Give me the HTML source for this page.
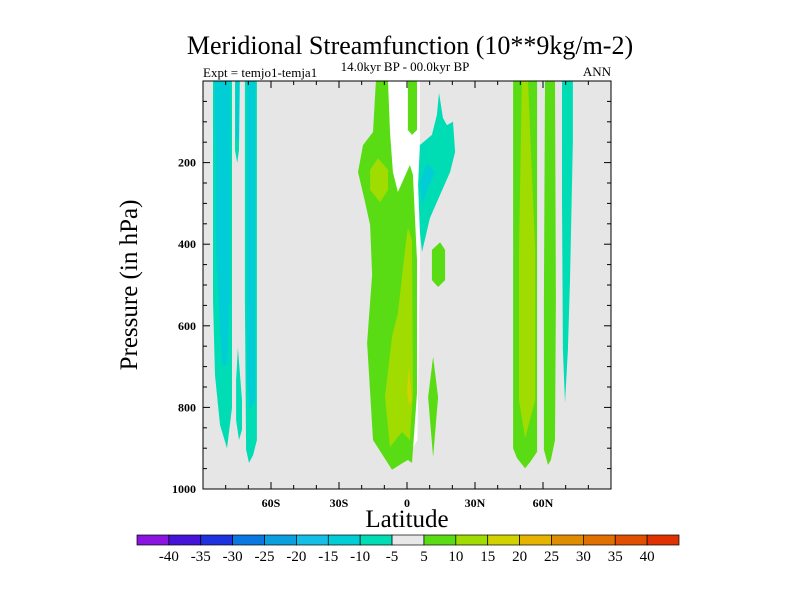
<!DOCTYPE html>
<html><head><meta charset="utf-8"><style>
body{margin:0;background:#fff;}
svg text{font-family:"Liberation Serif",serif;}
</style></head><body>
<svg id="chart" width="800" height="600" viewBox="0 0 800 600">
<text x="410" y="54" font-size="26" text-anchor="middle">Meridional Streamfunction (10**9kg/m-2)</text>
<text x="405" y="71" font-size="13" text-anchor="middle">14.0kyr BP - 00.0kyr BP</text>
<text x="203" y="77" font-size="13">Expt = temjo1-temja1</text>
<text x="611" y="76" font-size="13" text-anchor="end">ANN</text>
<rect x="203" y="81" width="408" height="408" fill="#e6e6e6"/>
<g id="contours"></g>
<g id="axes"></g>
<text x="407" y="527" font-size="25" text-anchor="middle">Latitude</text>
<text transform="translate(137,285) rotate(-90)" font-size="25" text-anchor="middle">Pressure (in hPa)</text>
<g id="colorbar"></g>
</svg>
<script>
const levelLabels = [-40,-35,-30,-25,-20,-15,-10,-5,5,10,15,20,25,30,35,40];
const levelColors = ["#8c14e0","#4614d8","#1e32e0","#0a78e0","#0aa0e0","#14bee6","#00cdd6","#00dcb4","#e8e8e8","#5adc14","#a0dc00","#d2d200","#e6b400","#e08c00","#e07000","#e05000","#e03200"];
const xTickLats = [-60,-30,0,30,60];
const xTickLabels = ["60S","30S","0","30N","60N"];
const yTickValues = [200,400,600,800,1000];
// contour polygons: [colorIndex, lats, pressures]
const shapeNames = ["white-gap","band1-teal","band1-cyan","band2-teal","band2-cyan","band2-lower","band3-teal","band3-cyan","tropical-green","top-column","tropical-yellow-blob","tropical-yellow","tropical-gold","nh-green-blob","nh-spindle","nh-teal","nh-cyan","band-a-green","band-a-yellow","band-b-green","band-c-teal"];
const shapeLevels = [-1,7,6,7,6,7,7,6,9,9,10,10,11,9,9,7,6,9,10,9,7];
const shapeLats = [
[-9.3,5.7,5.7,4.6,2.5,-5,-9.3],
[-85.6,-77.2,-77.2,-79.4,-82.5,-84.7,-85.6],
[-84.7,-78.1,-78.1,-79.4,-81.6,-84.3],
[-75.9,-73.7,-74.1,-74.9,-75.9],
[-75.4,-74.1,-74.1,-75.4],
[-74.6,-72.8,-72.8,-74.1,-75.4,-75.4],
[-71.5,-66.2,-66.2,-67.9,-69.7,-71.0,-71.5],
[-70.6,-67.0,-67.0,-69.3,-70.6],
[-13.7,-8.4,-7.5,-6.2,-4.0,1.3,2.6,4.4,4.4,2.2,0.4,-1.8,-6.6,-15.0,-17.6,-15.4,-16.3,-18.5,-21.6,-19.4,-15.0],
[0.4,4.4,4.4,2.2,0.4],
[-12.8,-8.4,-8.4,-11.9,-16.3,-16.3],
[0.4,2.2,2.6,1.3,-2.2,-7.5,-9.7,-6.6,-4.0,-0.9],
[0.9,2.2,0.9,0],
[14.6,16.8,16.8,13.7,11.0,11.0],
[11.5,13.7,11.5,9.3],
[14.1,15.9,17.6,20.3,21.2,19.0,14.6,10.1,6.6,5.7,4.9,5.7,11.0,13.2],
[8.8,12.3,9.3,6.6,5.7],
[46.8,57.4,57.4,54.3,52.1,48.5,46.8],
[50.7,53.4,56.5,56.5,52.1,49.4,49.4],
[60.9,65.3,65.7,65.3,63.5,62.2,60.4,60.4],
[68.4,73.2,73.2,71.9,71.0,69.7,68.8,68.4]
];
const shapePres = [
[0,0,426,880,900,600,292],
[0,0,801,900,843,721,537],
[0,0,537,696,696,414],
[0,0,169,201,169],
[0,0,145,145],
[654,782,855,880,831,733],
[0,0,880,917,936,904,537],
[0,0,782,806,733],
[0,0,125,223,272,206,230,439,765,936,929,936,953,880,642,475,353,297,223,157,125],
[0,0,120,132,120],
[189,218,267,297,267,218],
[360,390,765,880,860,897,774,627,569,414],
[701,782,794,757],
[395,414,488,505,488,414],
[676,775,922,775],
[29,91,108,100,174,223,279,336,419,370,255,157,132,83],
[201,223,262,304,248],
[0,0,909,934,949,924,900],
[0,0,414,782,875,782,414],
[0,0,537,880,929,941,904,537],
[0,0,145,488,659,789,659,292]
];
const NS="http://www.w3.org/2000/svg";
const X0=203,X1=611,Y0=81,Y1=489;
const xs=lat=>X0+(lat+90)/180*(X1-X0);
const ys=p=>Y0+p/1000*(Y1-Y0);
const cont=document.getElementById('contours');
shapeLats.forEach((lats,i)=>{
  const pts=lats.map((la,j)=>xs(la).toFixed(1)+","+ys(shapePres[i][j]).toFixed(1)).join(" ");
  const pg=document.createElementNS(NS,"polygon");
  pg.setAttribute("points",pts);
  pg.setAttribute("fill",shapeLevels[i]<0?"#ffffff":levelColors[shapeLevels[i]]);
  
  
  cont.appendChild(pg);
});
const ax=document.getElementById('axes');
function ln(x1,y1,x2,y2,w){const l=document.createElementNS(NS,"line");l.setAttribute("x1",x1);l.setAttribute("y1",y1);l.setAttribute("x2",x2);l.setAttribute("y2",y2);l.setAttribute("stroke","#000");l.setAttribute("stroke-width",w||1);ax.appendChild(l);return l;}
function tx(x,y,s,anchor,size,g){const t=document.createElementNS(NS,"text");t.setAttribute("x",x);t.setAttribute("y",y);t.setAttribute("text-anchor",anchor);t.setAttribute("font-size",size);t.setAttribute("font-weight","bold");t.textContent=s;(g||ax).appendChild(t);return t;}
const frame=document.createElementNS(NS,"rect");
frame.setAttribute("x",X0);frame.setAttribute("y",Y0);frame.setAttribute("width",X1-X0);frame.setAttribute("height",Y1-Y0);frame.setAttribute("fill","none");frame.setAttribute("stroke","#000");


ax.appendChild(frame);
for(let la=-80;la<=80;la+=10){const x=xs(la);const L=(la%30===0)?7:4;ln(x,Y1,x,Y1-L);ln(x,Y0,x,Y0+L);}
for(let p=50;p<1000;p+=50){const y=ys(p);const L=(p%200===0)?7:4;ln(X0,y,X0+L,y);ln(X1,y,X1-L,y);}
xTickLats.forEach((la,i)=>{const t=tx(xs(la),507,xTickLabels[i],"middle",12);

});
yTickValues.forEach(v=>{const t=tx(196,ys(v)+4,String(v),"end",12);

});
const cb=document.getElementById('colorbar');
const CB0=137,CB1=679,CBY=535,CBH=10,bw=(CB1-CB0)/levelColors.length;
levelColors.forEach((c,i)=>{const r=document.createElementNS(NS,"rect");r.setAttribute("x",CB0+i*bw);r.setAttribute("y",CBY);r.setAttribute("width",bw);r.setAttribute("height",CBH);r.setAttribute("fill",c);r.setAttribute("stroke","#000");r.setAttribute("stroke-width","0.7");


cb.appendChild(r);});
levelLabels.forEach((v,i)=>{const t=document.createElementNS(NS,"text");t.setAttribute("x",CB0+(i+1)*bw);t.setAttribute("y",561);t.setAttribute("text-anchor","middle");t.setAttribute("font-size","15");t.textContent=String(v);


cb.appendChild(t);});
</script>
</body></html>
